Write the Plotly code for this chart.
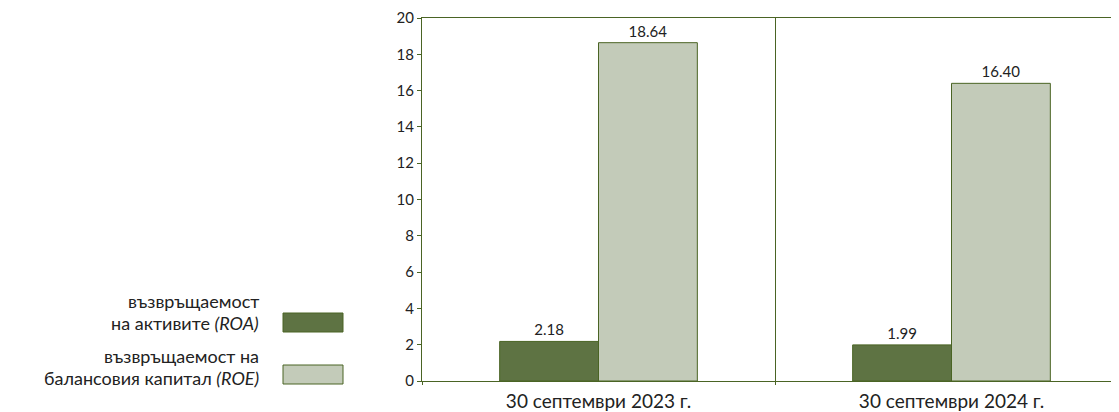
import plotly.graph_objects as go

categories = ["30 септември 2023 г.", "30 септември 2024 г."]
roa_values = [2.18, 1.99]
roe_values = [18.64, 16.40]
series_lines = [
    ["възвръщаемост", "на активите <i>(ROA)</i>"],
    ["възвръщаемост на", "балансовия капитал <i>(ROE)</i>"],
]
y_ticks = [0, 2, 4, 6, 8, 10, 12, 14, 16, 18, 20]

# page body has an 8px default margin; compensate so the chart fills 1119x412
OFF = 8
WIN_W, WIN_H = 1119, 412
W, H = WIN_W - OFF, WIN_H - OFF
ML = 422 - OFF
MT = 18 - OFF
MR = 0
MB = H - (381 - OFF)
PW, PH = W - ML - MR, H - MT - MB

LINE = "#4a6424"
DARK = "#5e7343"
LIGHT = "#c3cbb9"
TXT = "#222222"
FONT = "Lato, 'Open Sans', sans-serif"

def px_x(px):  # window pixel -> paper
    return (px - OFF - ML) / PW

def px_y(py):
    return 1 - (py - OFF - MT) / PH

fig = go.Figure()
for vals, color in [(roa_values, DARK), (roe_values, LIGHT)]:
    fig.add_trace(go.Bar(
        x=categories, y=vals,
        marker=dict(color=color, line=dict(color=LINE, width=1)),
        text=[f"{v:.2f}" for v in vals], textposition="outside",
        textfont=dict(size=15, color=TXT, family=FONT),
        cliponaxis=False, showlegend=False,
    ))

cat_px = 353.0
x_max = -0.5 + PW / cat_px

fig.update_layout(
    width=W, height=H,
    margin=dict(l=ML, r=MR, t=MT, b=MB, pad=0),
    plot_bgcolor="white", paper_bgcolor="white",
    barmode="group", bargap=0.44, bargroupgap=0,
    font=dict(family=FONT, color=TXT),
    xaxis=dict(
        range=[-0.5, x_max], showline=True, linecolor=LINE, linewidth=1,
        mirror=True, ticks="outside", ticklen=3, tickcolor=LINE,
        tickson="boundaries", showgrid=True, gridcolor=LINE, gridwidth=1,
        ticklabelstandoff=3,
        tickfont=dict(size=19, color=TXT, family=FONT), fixedrange=True,
    ),
    yaxis=dict(
        range=[0, 20], tickvals=y_ticks, showline=True, linecolor=LINE,
        linewidth=1, ticks="outside", ticklen=4, tickcolor=LINE,
        showgrid=False, zeroline=False,
        tickfont=dict(size=15, color=TXT, family=FONT),
    ),
)

legend_items = [
    (series_lines[0], DARK, 313, 332, [301, 323]),
    (series_lines[1], LIGHT, 365, 384, [356, 378]),
]
for lines, color, y0, y1, tys in legend_items:
    fig.add_shape(type="rect", xref="paper", yref="paper",
                  x0=px_x(283), x1=px_x(343), y0=px_y(y1), y1=px_y(y0),
                  fillcolor=color, line=dict(color=LINE, width=1))
    for txt, ty in zip(lines, tys):
        fig.add_annotation(xref="paper", yref="paper", x=px_x(261), y=px_y(ty),
                           xanchor="right", yanchor="middle", align="right",
                           text=txt, showarrow=False,
                           font=dict(size=18, color=TXT, family=FONT))

fig.write_html("out.html")
